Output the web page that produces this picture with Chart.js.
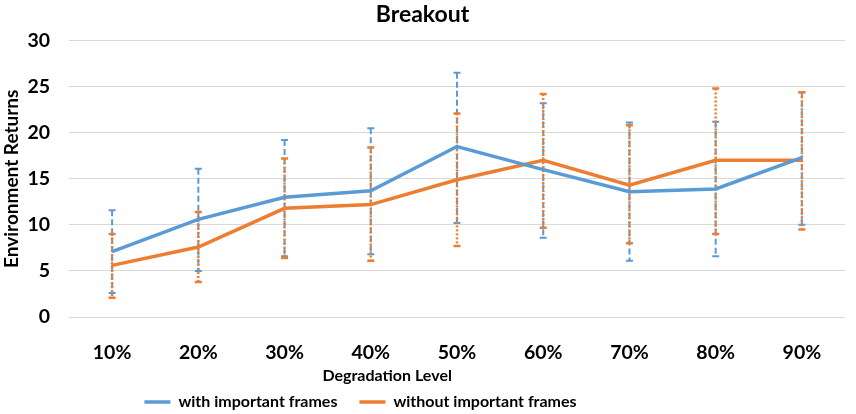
<!DOCTYPE html>
<html>
<head>
<meta charset="utf-8">
<script src="https://cdn.jsdelivr.net/npm/chart.js@4"></script>
<style>
  body { margin: 0; background: #fff; }
  #wrap { width: 856px; height: 414px; }
</style>
</head>
<body>
<div id="wrap"><canvas id="breakoutChart"></canvas></div>
<script>
// データ
var levels = ['10%', '20%', '30%', '40%', '50%', '60%', '70%', '80%', '90%'];
var withFrames = [7.1, 10.6, 13.0, 13.7, 18.5, 16.0, 13.6, 13.9, 17.3];
var withUpper = [11.6, 16.1, 19.2, 20.5, 26.5, 23.2, 21.1, 21.2, 24.4];
var withLower = [2.6, 5.0, 6.6, 6.8, 10.2, 8.6, 6.1, 6.6, 10.0];
var withoutFrames = [5.6, 7.6, 11.8, 12.2, 14.9, 17.0, 14.3, 17.0, 17.0];
var withoutUpper = [9.0, 11.4, 17.2, 18.4, 22.1, 24.2, 20.8, 24.8, 24.4];
var withoutLower = [2.1, 3.8, 6.4, 6.1, 7.7, 9.7, 8.0, 9.0, 9.5];
var yTicks = [0, 5, 10, 15, 20, 25, 30];

var blue = '#5B9BD5';
var orange = '#ED7D31';
var font = 'Lato';

// エラーバー描画
var errorBars = {
    id: 'errorBars',
    beforeDatasetsDraw: function (chart) {
        var ctx = chart.ctx;
        var x = chart.scales.x, y = chart.scales.y;
        chart.data.datasets.forEach(function (ds) {
            ctx.save();
            ctx.strokeStyle = ds.borderColor;
            ctx.lineWidth = ds.errDash[0] > 3 ? 2 : 2.5;
            for (var i = 0; i < ds.data.length; i++) {
                var px = x.getPixelForValue(i);
                var top = y.getPixelForValue(ds.upper[i]);
                var bot = y.getPixelForValue(ds.lower[i]);
                ctx.setLineDash(ds.errDash);
                ctx.beginPath();
                ctx.moveTo(px, top);
                ctx.lineTo(px, bot);
                ctx.stroke();
                ctx.setLineDash([]);
                ctx.beginPath();
                ctx.moveTo(px - 3.5, top);
                ctx.lineTo(px + 3.5, top);
                ctx.moveTo(px - 3.5, bot);
                ctx.lineTo(px + 3.5, bot);
                ctx.stroke();
            }
            ctx.restore();
        });
    }
};

// x軸タイトルと凡例の位置合わせ
var xTitle = {
    id: 'xTitle',
    afterLayout: function (chart) {
        chart.legend.left -= 62;
        chart.legend.right -= 62;
        chart.legend.top += 6;
        chart.legend.bottom += 6;
    },
    afterDraw: function (chart) {
        var ctx = chart.ctx, a = chart.chartArea;
        ctx.save();
        ctx.font = 'bold 16px ' + font;
        ctx.fillStyle = '#000';
        ctx.textAlign = 'center';
        ctx.textBaseline = 'middle';
        ctx.fillText('Degradation Level', a.left + a.width * 0.41, 376);
        ctx.restore();
    }
};

new Chart(document.getElementById('breakoutChart'), {
    type: 'line',
    data: {
        labels: levels,
        datasets: [{
            label: 'with important frames',
            data: withFrames,
            upper: withUpper,
            lower: withLower,
            errDash: [6, 3],
            borderColor: blue,
            backgroundColor: blue,
            borderWidth: 3.5,
            pointRadius: 0,
            tension: 0
        }, {
            label: 'without important frames',
            data: withoutFrames,
            upper: withoutUpper,
            lower: withoutLower,
            errDash: [2, 2],
            borderColor: orange,
            backgroundColor: orange,
            borderWidth: 3.5,
            pointRadius: 0,
            tension: 0
        }]
    },
    options: {
        responsive: true,
        maintainAspectRatio: false,
        animation: false,
        layout: { padding: { right: 11 } },
        plugins: {
            title: {
                display: true,
                text: 'Breakout',
                color: '#000',
                font: { family: font, size: 23, weight: 'bold' },
                padding: { top: 1, bottom: 12 }
            },
            legend: {
                position: 'bottom',
                labels: {
                    color: '#000',
                    font: { family: font, size: 16, weight: 'bold' },
                    usePointStyle: true,
                    pointStyle: 'line',
                    pointStyleWidth: 26,
                    padding: 22
                }
            },
            tooltip: { enabled: false }
        },
        scales: {
            x: {
                offset: true,
                grid: { display: false },
                border: { display: false },
                ticks: {
                    color: '#000',
                    padding: 16,
                    font: { family: font, size: 19.5, weight: 'bold' }
                },
                afterFit: function (s) { s.height = 49; }
            },
            y: {
                min: 0,
                max: 30,
                afterBuildTicks: function (s) {
                    s.ticks = yTicks.map(function (v) { return { value: v }; });
                },
                grid: { color: '#d9d9d9', drawTicks: false },
                border: { display: false },
                ticks: {
                    color: '#000',
                    padding: 19,
                    font: { family: font, size: 19.5, weight: 'bold' }
                },
                title: {
                    display: true,
                    text: 'Environment Returns',
                    color: '#000',
                    padding: 0,
                    font: { family: font, size: 19, weight: 'bold' }
                },
                afterFit: function (s) { s.width = 69; }
            }
        }
    },
    plugins: [errorBars, xTitle]
});
</script>
</body>
</html>
